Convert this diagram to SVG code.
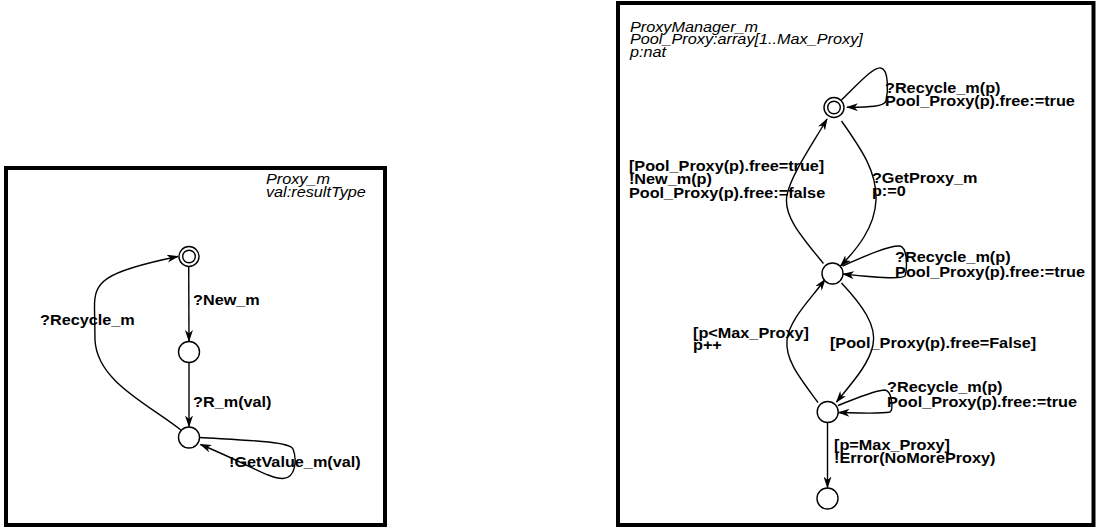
<svg xmlns="http://www.w3.org/2000/svg" width="1097" height="532" viewBox="0 0 1097 532">
<style>
.frame{fill:none;stroke:#000;stroke-width:4}
.st{fill:#fff;stroke:#000;stroke-width:1.4}
.e{fill:none;stroke:#000;stroke-width:1.4}
.lb{font-family:"Liberation Sans",Arial,sans-serif;font-weight:bold;font-size:14px;fill:#000}
.hd{font-family:"Liberation Sans",Arial,sans-serif;font-style:italic;font-size:14px;fill:#000}
</style>
<defs>
<marker id="ar" viewBox="0 0 12 8" refX="11" refY="4" markerWidth="12" markerHeight="8" markerUnits="userSpaceOnUse" orient="auto">
<path d="M0,0 L12,4 L0,8 L3.5,4 z" fill="#000"/>
</marker>
</defs>
<rect width="1097" height="532" fill="#fff"/>

<g id="proxy_m">
<rect class="frame" x="6" y="168" width="379" height="357"/>
<g transform="scale(1.16,1)">
<text class="hd" x="229.3" y="184">Proxy_m</text>
<text class="hd" x="229.3" y="197">val:resultType</text>
</g>
</g>

<g id="proxymanager_m">
<rect class="frame" x="618" y="3" width="475.5" height="522"/>
<g transform="scale(1.16,1)">
<text class="hd" x="543.1" y="32">ProxyManager_m</text>
<text class="hd" x="543.1" y="44.5">Pool_Proxy:array[1..Max_Proxy]</text>
<text class="hd" x="543.1" y="57">p:nat</text>
</g>
</g>

<g id="connectors">
<path class="e" marker-end="url(#ar)" d="M188.7,266.5 L189,341"/>
<path class="e" marker-end="url(#ar)" d="M189,362.5 L189,426.5"/>
<path class="e" marker-end="url(#ar)" d="M181.5,430.5 C150,405 97,382 95,340 L94.5,308 C94,282 102,272 178,256.5"/>
<path class="e" marker-end="url(#ar)" d="M199.5,437.5 C240,440 289,441 293,449 C297,459 296,478 283,478.5 C270,479 250,465 200.5,444.5"/>

<path class="e" d="M841.5,100 C858,84 874,66 881,68 C889,70 888,92 886,101 C884,107 868,107 847,107.3" marker-end="url(#ar)"/>
<path class="e" marker-end="url(#ar)" d="M841.5,121 C862,150 877,172 876,200 C875,228 856,250 840.5,266"/>
<path class="e" marker-end="url(#ar)" d="M823.5,263.5 C800,235 783,215 787,195 C791,175 812,145 827,119"/>
<path class="e" marker-end="url(#ar)" d="M842.5,266 C865,256 890,245 900,246 C908,248 907,270 905,276 C900,280 870,277 843,274"/>
<path class="e" marker-end="url(#ar)" d="M841.5,283 C862,305 877,325 873,345 C869,365 850,385 836.5,402"/>
<path class="e" marker-end="url(#ar)" d="M818,402.5 C800,378 785,360 787,340 C789,320 810,300 825,279.5"/>
<path class="e" marker-end="url(#ar)" d="M838,405.5 C855,399 875,390 885,390 C893,392 893,410 890,412 C880,414 860,413 838.5,412.5"/>
<path class="e" marker-end="url(#ar)" d="M827.5,422.5 L827.5,487.5"/>
</g>

<g id="labels" transform="scale(1.16,1)">
<text class="lb" x="166.4" y="305">?New_m</text>
<text class="lb" x="166.4" y="407.5">?R_m(val)</text>
<text class="lb" x="34.5" y="325">?Recycle_m</text>
<text class="lb" x="197.4" y="467">!GetValue_m(val)</text>

<text class="lb" x="762.9" y="93">?Recycle_m(p)</text>
<text class="lb" x="762.9" y="106">Pool_Proxy(p).free:=true</text>
<text class="lb" x="542.2" y="171">[Pool_Proxy(p).free=true]</text>
<text class="lb" x="542.2" y="184.5">!New_m(p)</text>
<text class="lb" x="542.2" y="198">Pool_Proxy(p).free:=false</text>
<text class="lb" x="751.7" y="183.5">?GetProxy_m</text>
<text class="lb" x="751.7" y="196">p:=0</text>
<text class="lb" x="771.6" y="262">?Recycle_m(p)</text>
<text class="lb" x="771.6" y="277">Pool_Proxy(p).free:=true</text>
<text class="lb" x="597.4" y="338.5">[p&lt;Max_Proxy]</text>
<text class="lb" x="597.4" y="350.5">p++</text>
<text class="lb" x="715.5" y="348.5">[Pool_Proxy(p).free=False]</text>
<text class="lb" x="764.7" y="392">?Recycle_m(p)</text>
<text class="lb" x="764.7" y="407">Pool_Proxy(p).free:=true</text>
<text class="lb" x="719" y="450">[p=Max_Proxy]</text>
<text class="lb" x="719" y="463.5">!Error(NoMoreProxy)</text>
</g>

<g id="s_init_l"><circle class="st" cx="189" cy="256.5" r="10"/><circle class="st" cx="189" cy="256.5" r="6.3"/></g>
<g id="s_mid_l"><circle class="st" cx="189" cy="352" r="10.5"/></g>
<g id="s_bot_l"><circle class="st" cx="189" cy="437.5" r="10.5"/></g>

<g id="s_init_r"><circle class="st" cx="834" cy="107.5" r="10"/><circle class="st" cx="834" cy="107.5" r="6.3"/></g>
<g id="s_mid_r"><circle class="st" cx="832.5" cy="273.5" r="10.5"/></g>
<g id="s_low_r"><circle class="st" cx="827.7" cy="412" r="10.5"/></g>
<g id="s_end_r"><circle class="st" cx="827.5" cy="498.5" r="10.5"/></g>
</svg>
